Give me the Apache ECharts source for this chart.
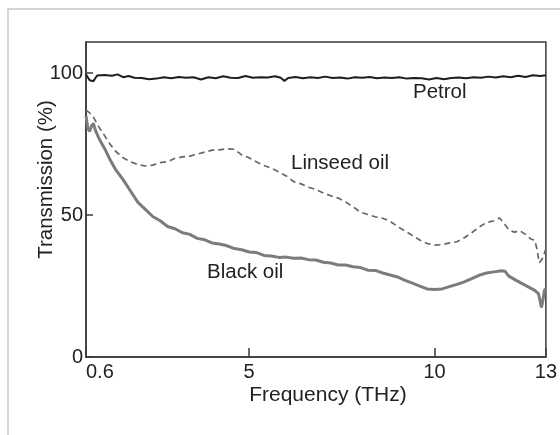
<!DOCTYPE html>
<html>
<head>
<meta charset="utf-8">
<script src="https://cdn.jsdelivr.net/npm/echarts@6/dist/echarts.min.js"></script>
<style>
  html, body { margin: 0; padding: 0; background: #fff; }
  #chart { width: 560px; height: 435px; }
</style>
</head>
<body>
<div id="chart"></div>
<script>
// tick labels
const xTicks = [0.6, 5, 10, 13];
const yTicks = [0, 50, 100];

// Petrol (black, near 100 %)
const petrolX = [0.6, 0.7, 0.8, 0.9, 1.1, 1.3, 1.45, 1.6, 1.75, 1.9, 2.1, 2.3, 2.5, 2.7, 2.9, 3.1, 3.3, 3.5, 3.7, 3.9,
  4.1, 4.3, 4.5, 4.7, 4.9, 5.1, 5.3, 5.5, 5.7, 5.85, 5.95, 6.05, 6.25, 6.45, 6.65, 6.85, 7.05, 7.25, 7.45, 7.65,
  7.85, 8.05, 8.25, 8.45, 8.65, 8.85, 9.05, 9.25, 9.45, 9.65, 9.85, 10.05, 10.25, 10.45, 10.65, 10.85, 11.05,
  11.25, 11.45, 11.65, 11.85, 12.05, 12.25, 12.45, 12.65, 12.85, 13.0];
const petrolY = [99.5, 97.5, 97.2, 99.2, 99.4, 99.1, 99.6, 98.6, 99.0, 98.4, 98.3, 97.9, 98.1, 98.6, 98.2, 98.7, 98.4, 98.6, 97.8, 98.6,
  98.2, 98.9, 98.4, 98.3, 99.0, 98.4, 98.6, 98.5, 98.9, 98.4, 97.3, 98.3, 98.7, 98.2, 98.6, 98.3, 98.8, 98.3, 98.5, 98.1,
  98.6, 98.4, 98.7, 98.2, 98.5, 98.3, 98.6, 98.1, 98.3, 98.2, 97.8, 98.3, 97.9, 98.3, 98.5, 98.2, 98.6,
  98.4, 98.8, 98.5, 98.9, 98.6, 99.1, 98.7, 99.3, 99.0, 99.3];

// Linseed oil (dashed)
const linseedX = [0.6, 0.7, 0.8, 0.95, 1.1, 1.25, 1.4, 1.6, 1.8, 2.0, 2.2, 2.4, 2.6, 2.8, 3.0, 3.2, 3.4, 3.6, 3.8, 4.0,
  4.2, 4.4, 4.6, 4.8, 5.0, 5.2, 5.4, 5.6, 5.8, 6.0, 6.2, 6.4, 6.6, 6.8, 7.0, 7.2, 7.4, 7.6, 7.8, 8.0, 8.2, 8.4,
  8.6, 8.8, 9.0, 9.2, 9.4, 9.6, 9.8, 10.0, 10.2, 10.4, 10.6, 10.8, 11.0, 11.2, 11.4, 11.6, 11.75, 11.85, 12.0,
  12.15, 12.3, 12.45, 12.6, 12.7, 12.76, 12.82, 12.9, 13.0];
const linseedY = [87, 86, 84.5, 81, 78, 75, 72.5, 70.2, 68.8, 67.8, 67.3, 67.6, 68.5, 68.8, 70, 70.5, 70.8, 71.5, 72.2, 72.9,
  73, 73.4, 73.2, 71.2, 70.2, 68.7, 67.5, 66.5, 65.2, 63.8, 61.8, 61, 59.8, 59, 57.8, 56.8, 56, 54.6, 53, 51, 50.2, 49.4,
  48.9, 47.8, 46, 44.4, 42.8, 41.2, 40, 39.4, 39.6, 40.2, 40.6, 42, 43.8, 45.8, 47.4, 48, 49, 47.5, 44.8,
  44, 44.5, 43.2, 41.5, 41.2, 38, 33.2, 34.5, 38];

// Black oil (grey solid)
const blackX = [0.6, 0.65, 0.7, 0.75, 0.8, 0.85, 0.95, 1.1, 1.25, 1.4, 1.6, 1.8, 2.0, 2.2, 2.4, 2.6, 2.8, 3.0, 3.2, 3.4,
  3.6, 3.8, 4.0, 4.2, 4.4, 4.6, 4.8, 5.0, 5.2, 5.4, 5.6, 5.8, 6.0, 6.2, 6.4, 6.6, 6.8, 7.0, 7.2, 7.4, 7.6, 7.8,
  8.0, 8.2, 8.4, 8.6, 8.8, 9.0, 9.2, 9.4, 9.6, 9.8, 10.0, 10.2, 10.4, 10.6, 10.8, 11.0, 11.2, 11.4, 11.6, 11.8,
  11.9, 12.0, 12.2, 12.4, 12.6, 12.7, 12.8, 12.85, 12.88, 12.92, 12.96, 13.0];
const blackY = [85, 80.5, 79.5, 81.5, 82.3, 80, 77, 73.5, 69.5, 66, 62.5, 58.5, 54.5, 52, 49.5, 48, 46, 45.2, 43.8, 43.2,
  41.8, 41.3, 40.2, 39.8, 39.2, 38.2, 37.8, 37, 36.8, 35.8, 35.6, 35.1, 35.2, 34.8, 34.9, 34.3, 34.2, 33.4, 33.1, 32.4, 32.4, 31.8,
  31.5, 30.6, 30.5, 29.6, 28.9, 28.2, 27, 26, 25, 24, 23.8, 24, 24.8, 25.6, 26.5, 27.6, 28.8, 29.6, 30, 30.4,
  30.2, 28.5, 27, 25.6, 24.2, 23.5, 22.3, 19.5, 17.5, 20, 23.5, 24];

const pair = (xs, ys) => xs.map((x, i) => [x, ys[i]]);

const FONT = "'Liberation Sans', Arial, Helvetica, sans-serif";
const frameColor = "#3a3a3a";

const chart = echarts.init(document.getElementById("chart"));

chart.setOption({
  animation: false,
  backgroundColor: "#fff",
  grid: {
    left: 86,
    right: 10,
    top: 42,
    bottom: 78,
    show: true,
    borderColor: frameColor,
    borderWidth: 1.5,
    backgroundColor: "transparent"
  },
  xAxis: {
    type: "value",
    min: 0.6,
    max: 13,
    name: "Frequency (THz)",
    nameLocation: "middle",
    nameGap: 28,
    nameMoveOverlap: false,
    nameTextStyle: { fontFamily: FONT, fontSize: 21, color: "#222", padding: [0, 0, 0, 24] },
    axisLine: { show: true, lineStyle: { color: frameColor, width: 1.5 } },
    axisTick: { show: true, inside: true, length: 9, customValues: xTicks, lineStyle: { color: frameColor, width: 1.5 } },
    axisLabel: {
      customValues: xTicks,
      fontFamily: FONT,
      fontSize: 20,
      color: "#222",
      margin: 5,
      alignMinLabel: "left",
      formatter: v => String(v)
    },
    splitLine: { show: false }
  },
  yAxis: {
    type: "value",
    min: 0,
    max: 111,
    name: "Transmission (%)",
    nameLocation: "middle",
    nameGap: 29,
    nameMoveOverlap: false,
    nameTextStyle: { fontFamily: FONT, fontSize: 20.5, color: "#222", padding: [0, 0, 0, 40] },
    axisLine: { show: true, lineStyle: { color: frameColor, width: 1.5 } },
    axisTick: { show: true, inside: true, length: 7, customValues: yTicks, lineStyle: { color: frameColor, width: 1.5 } },
    axisLabel: {
      customValues: yTicks,
      fontFamily: FONT,
      fontSize: 20,
      color: "#222",
      margin: 3
    },
    splitLine: { show: false }
  },
  series: [
    {
      name: "Petrol",
      type: "line",
      data: pair(petrolX, petrolY),
      showSymbol: false,
      lineStyle: { color: "#1e1e1e", width: 2 },
      z: 3
    },
    {
      name: "Linseed oil",
      type: "line",
      data: pair(linseedX, linseedY),
      showSymbol: false,
      lineStyle: { color: "#666", width: 1.7, type: [6, 4] },
      z: 2
    },
    {
      name: "Black oil",
      type: "line",
      data: pair(blackX, blackY),
      showSymbol: false,
      lineStyle: { color: "#7c7c7c", width: 3 },
      z: 2
    }
  ],
  graphic: [
    // light outer frame of the figure
    {
      type: "rect",
      shape: { x: 8, y: 9, width: 600, height: 500 },
      style: { fill: "none", stroke: "#c8c8c8", lineWidth: 1.5 },
      silent: true
    },
    {
      type: "text",
      style: { text: "Petrol", x: 413, y: 92, font: "20.5px " + FONT, fill: "#222", verticalAlign: "middle" }
    },
    {
      type: "text",
      style: { text: "Linseed oil", x: 291, y: 163, font: "20.5px " + FONT, fill: "#222", verticalAlign: "middle" }
    },
    {
      type: "text",
      style: { text: "Black oil", x: 207, y: 272, font: "20.5px " + FONT, fill: "#222", verticalAlign: "middle" }
    }
  ]
});
</script>
</body>
</html>
